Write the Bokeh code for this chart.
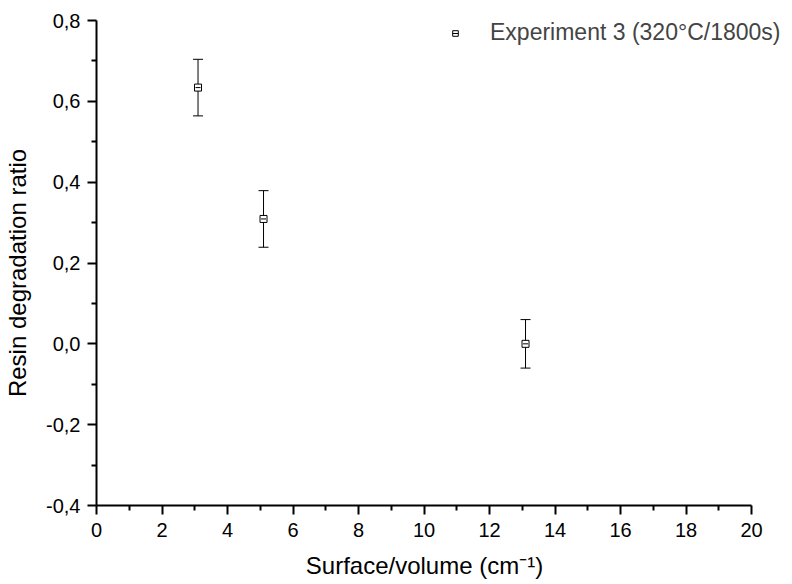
from bokeh.plotting import figure
from bokeh.models import (ColumnDataSource, Range1d, FixedTicker, CustomJSTickFormatter,
                          Whisker, TeeHead, Legend, LegendItem)
from bokeh.embed import file_html
from bokeh.resources import INLINE

# data
sv_ratio = [3.1, 5.1, 13.1]
degradation = [0.634, 0.309, 0.0]
error = [0.07, 0.07, 0.06]
series_name = "Experiment 3 (320°C/1800s)"
x_ticks = [0, 2, 4, 6, 8, 10, 12, 14, 16, 18, 20]
x_minor = [1, 3, 5, 7, 9, 11, 13, 15, 17, 19]
y_ticks = [-0.4, -0.2, 0.0, 0.2, 0.4, 0.6, 0.8]
y_minor = [-0.3, -0.1, 0.1, 0.3, 0.5, 0.7]
x_axis_start, x_axis_end = 0, 20

src = ColumnDataSource(dict(
    x=sv_ratio, y=degradation,
    upper=[v + e for v, e in zip(degradation, error)],
    lower=[v - e for v, e in zip(degradation, error)],
))

FONT = "Liberation Sans"
NBSP = "\u00a0"

# frame spans 96..792 px; the 0..20 axis occupies 96..751 px
x_view_end = x_axis_end * 696 / 655

p = figure(width=792, height=584, output_backend="svg", toolbar_location=None,
           x_range=Range1d(x_axis_start, x_view_end), y_range=Range1d(-0.4, 0.8),
           min_border_left=96, min_border_right=0, min_border_top=20, min_border_bottom=79)
p.outline_line_color = None
p.xgrid.visible = False
p.ygrid.visible = False
p.background_fill_color = "white"
p.border_fill_color = "white"

w = Whisker(source=src, base="x", upper="upper", lower="lower", dimension="height",
            line_color="black", line_width=1,
            upper_head=TeeHead(size=10, line_color="black", line_width=1),
            lower_head=TeeHead(size=10, line_color="black", line_width=1))
p.add_layout(w)

sq = p.scatter("x", "y", source=src, marker="square", size=7, fill_color="white",
               line_color="black", line_width=1)
ds = p.scatter("x", "y", source=src, marker="dash", size=5, line_color="black", line_width=1)

for ax in (p.xaxis[0], p.yaxis[0]):
    ax.axis_line_width = 2
    ax.major_tick_line_width = 2
    ax.minor_tick_line_width = 2
    ax.major_tick_in = 0
    ax.major_tick_out = 9
    ax.minor_tick_in = 0
    ax.minor_tick_out = 5
    ax.major_label_text_font = FONT
    ax.major_label_text_font_size = "20px"
    ax.major_label_text_color = "black"
    ax.axis_label_text_font = FONT
    ax.axis_label_text_font_size = "24px"
    ax.axis_label_text_font_style = "normal"
    ax.axis_label_text_color = "black"

p.xaxis[0].ticker = FixedTicker(ticks=x_ticks, minor_ticks=x_minor)
p.yaxis[0].ticker = FixedTicker(ticks=y_ticks, minor_ticks=y_minor)
p.xaxis[0].bounds = (x_axis_start, x_axis_end)
p.xaxis[0].formatter = CustomJSTickFormatter(code="return tick.toFixed(0);")
p.yaxis[0].formatter = CustomJSTickFormatter(code="return tick.toFixed(1).replace('.', ',');")
# trailing no-break spaces nudge the centred labels to match the reference
p.xaxis[0].axis_label = "Surface/volume (cm⁻¹)" + NBSP * 6
p.yaxis[0].axis_label = "Resin degradation ratio" + NBSP * 3
p.xaxis[0].major_label_standoff = 8
p.yaxis[0].major_label_standoff = 7
p.xaxis[0].axis_label_standoff = 12
p.yaxis[0].axis_label_standoff = 12

legend = Legend(items=[LegendItem(label=series_name, renderers=[sq, ds])],
                location=(352, 459), padding=0, margin=0, border_line_color=None,
                background_fill_alpha=0, glyph_width=14, glyph_height=14,
                label_standoff=28, label_text_font=FONT, label_text_font_size="23px",
                label_height=24)
p.add_layout(legend)

open("out.html", "w").write(file_html(p, INLINE))
